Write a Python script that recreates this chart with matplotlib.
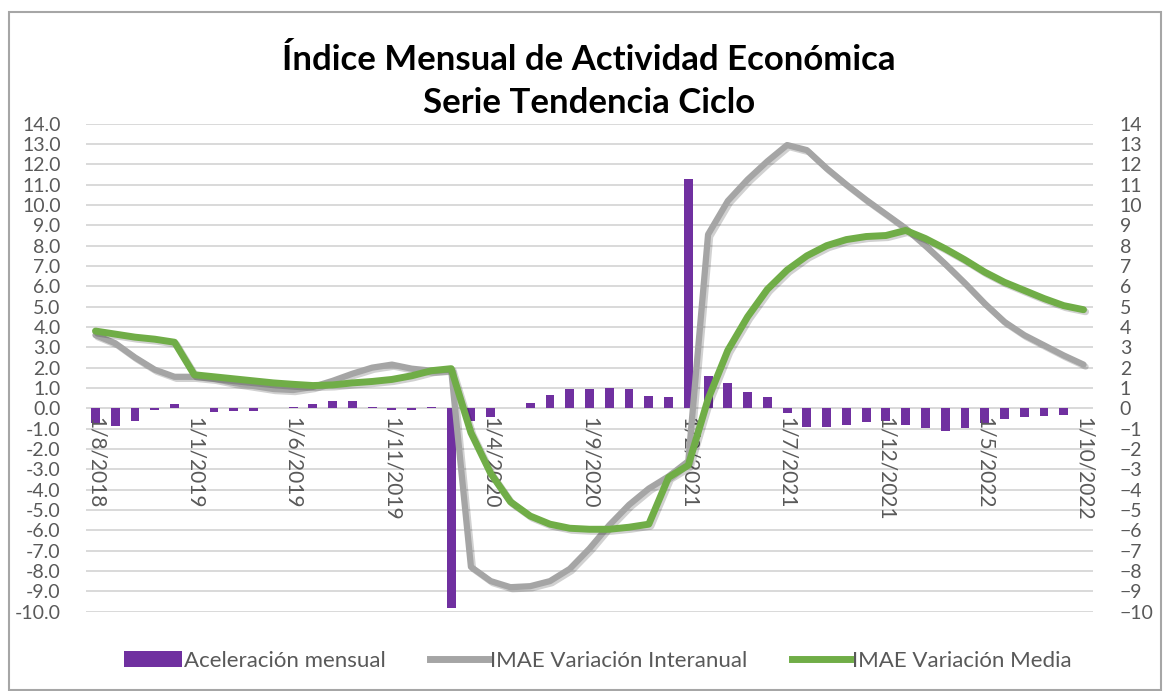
import matplotlib
matplotlib.use("Agg")
import matplotlib.pyplot as plt
import matplotlib.patheffects as pe
from matplotlib.patches import Patch, Rectangle
from matplotlib.lines import Line2D
import numpy as np

plt.rcParams['font.family'] = ['Lato', 'DejaVu Sans']

# monthly data, Aug 2018 .. Oct 2022
tick_labels = ["1/8/2018", "1/1/2019", "1/6/2019", "1/11/2019", "1/4/2020", "1/9/2020",
               "1/2/2021", "1/7/2021", "1/12/2021", "1/5/2022", "1/10/2022"]

aceleracion = [-0.7, -0.85, -0.6, -0.1, 0.2, 0.0, -0.2, -0.15, -0.15, 0.0,
               0.05, 0.2, 0.35, 0.35, 0.08, -0.08, -0.08, 0.08, -9.8, -0.6,
               -0.45, 0.0, 0.25, 0.65, 0.93, 0.93, 0.98, 0.93, 0.62, 0.54,
               11.3, 1.6, 1.26, 0.82, 0.54, -0.25, -0.9, -0.9, -0.82, -0.66,
               -0.6, -0.82, -0.98, -1.1, -0.98, -0.74, -0.54, -0.44, -0.4, -0.33,
               0.0]

interanual = [3.6, 3.2, 2.5, 1.9, 1.55, 1.55, 1.45, 1.25, 1.1, 0.95,
              0.9, 1.05, 1.35, 1.7, 2.0, 2.15, 1.95, 1.85, 1.9, -7.8,
              -8.5, -8.8, -8.75, -8.5, -7.9, -6.9, -5.75, -4.75, -3.95, -3.35,
              -2.6, 8.55, 10.2, 11.25, 12.15, 12.95, 12.7, 11.8, 11.0, 10.25,
              9.55, 8.85, 8.0, 7.1, 6.15, 5.15, 4.25, 3.6, 3.1, 2.6,
              2.15]

media = [3.8, 3.65, 3.5, 3.4, 3.25, 1.65, 1.55, 1.45, 1.35, 1.25,
         1.18, 1.12, 1.15, 1.25, 1.32, 1.42, 1.6, 1.85, 1.95, -1.2,
         -3.2, -4.6, -5.3, -5.7, -5.9, -5.95, -5.95, -5.85, -5.7, -3.4,
         -2.8, 0.45, 2.85, 4.5, 5.85, 6.8, 7.5, 8.0, 8.3, 8.45,
         8.5, 8.75, 8.35, 7.85, 7.3, 6.7, 6.2, 5.8, 5.4, 5.05,
         4.85]

purple = "#7030A0"
gray = "#A5A5A5"
green = "#70AD47"
txt = "#595959"

W, H = 1164, 691
fig = plt.figure(figsize=(W / 100, H / 100), dpi=100)

# plot area in pixels
left, right, top, bottom = 85.6, 1093.4, 123.7, 611.6
ax = fig.add_axes([left / W, 1 - bottom / H, (right - left) / W, (bottom - top) / H])
ax2 = ax.twinx()

x = np.arange(len(media))

ax.bar(x, aceleracion, width=0.45, color=purple, zorder=2)
ax.set_xlim(-0.5, len(media) - 0.5)
ax.set_ylim(-10, 14)
ax.set_yticks(np.arange(-10, 15, 1))
ax.set_yticklabels([f"{v:.1f}" for v in np.arange(-10, 15, 1)])
ax.grid(axis='y', color="#D9D9D9", linewidth=1.4)
ax.set_axisbelow(True)
# date labels sit on top of the gridlines
ax.xaxis.set_zorder(3)

shadow = [pe.SimpleLineShadow(offset=(1.5, -1.5), shadow_color='black', alpha=0.18), pe.Normal()]
ax2.plot(x, interanual, color=gray, lw=4.5, solid_joinstyle='round',
         solid_capstyle='round', path_effects=shadow, zorder=3)
ax2.plot(x, media, color=green, lw=5, solid_joinstyle='round',
         solid_capstyle='round', path_effects=shadow, zorder=4)
ax2.set_ylim(-10, 14)
ax2.set_yticks(np.arange(-10, 15, 1))

ax.set_xticks(x[::5])
ax.set_xticklabels(tick_labels)
ax.spines['bottom'].set_position(('data', 0))

for a in (ax, ax2):
    for s in a.spines.values():
        s.set_color('none')

ax.tick_params(axis='x', length=0, pad=6, labelsize=15, labelcolor=txt, labelrotation=270)
for lab in ax.get_xticklabels():
    lab.set_ha('center')
    lab.set_va('top')
ax.tick_params(axis='y', length=0, pad=18, labelsize=14, labelcolor=txt)
ax2.tick_params(axis='y', length=0, pad=19, labelsize=14, labelcolor=txt)
ax2.tick_params(axis='x', length=0, labelbottom=False)

fig.text(589 / W, 1 - 60 / H, "Índice Mensual de Actividad Económica",
         ha='center', va='center', fontsize=25, fontweight='bold', color='black')
fig.text(589 / W, 1 - 103 / H, "Serie Tendencia Ciclo",
         ha='center', va='center', fontsize=25, fontweight='bold', color='black')

handles = [Patch(facecolor=purple, edgecolor='none'),
           Line2D([], [], color=gray, lw=5),
           Line2D([], [], color=green, lw=5)]
labels = ["Aceleración mensual", "IMAE Variación Interanual", "IMAE Variación Media"]
leg = fig.legend(handles, labels, loc='center', bbox_to_anchor=(598 / W, 1 - 661 / H),
                 ncol=3, frameon=False, fontsize=16, handlelength=2.6,
                 handletextpad=0.1, columnspacing=2.0)
for t in leg.get_texts():
    t.set_color(txt)

# outer chart border
fig.patches.append(Rectangle((9 / W, 1 / H), 1152 / W, (H - 13) / H,
                             transform=fig.transFigure, fill=False,
                             edgecolor="#A6A6A6", linewidth=1.5))

fig.savefig("out.png", dpi=100)
